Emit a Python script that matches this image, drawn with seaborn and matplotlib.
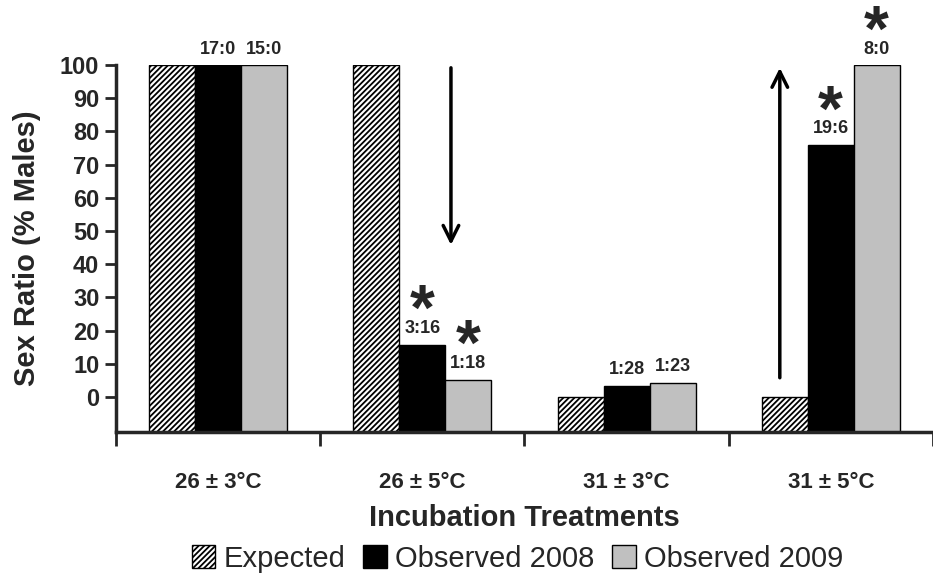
import pandas as pd
import matplotlib.pyplot as plt
import matplotlib.patches as mpatches
import seaborn as sns

# datos
treatments = ["26 ± 3°C", "26 ± 5°C", "31 ± 3°C", "31 ± 5°C"]
series = ["Expected", "Observed 2008", "Observed 2009"]
expected = [100, 100, 0, 0]
obs_2008 = [100, 15.8, 3.4, 76]
obs_2009 = [100, 5.3, 4.3, 100]
counts_2008 = ["17:0", "3:16", "1:28", "19:6"]
counts_2009 = ["15:0", "1:18", "1:23", "8:0"]
signif_2008 = [False, True, False, True]
signif_2009 = [False, True, False, True]

df = pd.DataFrame({
    "treatment": treatments * 3,
    "series": [s for s in series for _ in treatments],
    "value": expected + obs_2008 + obs_2009,
})

sns.set_style("ticks")
plt.rcParams["font.family"] = ["Liberation Sans", "DejaVu Sans"]
plt.rcParams["hatch.linewidth"] = 1.3
plt.rcParams["mathtext.fontset"] = "custom"
plt.rcParams["mathtext.bf"] = "Liberation Sans:bold"

fig = plt.figure(figsize=(9.33, 5.77), dpi=100)
ax = fig.add_axes([0.1243, 0.2513, 0.8757, 0.636])

ymin = -10.5
colores = ["white", "black", "#c0c0c0"]
sns.barplot(data=df, x="treatment", y="value", hue="series", palette=colores,
            edgecolor="black", linewidth=1, width=0.675, errorbar=None,
            legend=False, ax=ax)

# barras desde el fondo del eje (como en Excel)
for cont in ax.containers:
    for p in cont.patches:
        h = p.get_height()
        p.set_y(ymin)
        p.set_height(h - ymin)
for p in ax.containers[0].patches:
    p.set_hatch("//////")

ax.set_ylim(ymin, 100)
ax.set_xlim(-0.5, 3.466)
ax.set_yticks(range(0, 101, 10))
ax.set_xticks(range(4))
ax.set_xticklabels(treatments)
ax.set_xticks([-0.5, 0.5, 1.5, 2.5, 3.5], minor=True)
ax.tick_params(axis="x", which="major", length=0, pad=29, labelsize=16)
ax.tick_params(axis="x", which="minor", length=10, width=2, direction="out")
ax.tick_params(axis="y", length=8, width=2, direction="out", pad=4, labelsize=17)
for lab in ax.get_xticklabels() + ax.get_yticklabels():
    lab.set_fontweight("bold")

sns.despine(ax=ax)
ax.spines["left"].set_linewidth(2.5)
ax.spines["bottom"].set_linewidth(2.5)
ax.spines["left"].set_bounds(ymin, 100)

ax.set_ylabel("Sex Ratio (% Males)", fontsize=21, fontweight="bold")
ax.yaxis.set_label_coords(-0.092, 0.5)
ax.set_xlabel("Incubation Treatments", fontsize=21, fontweight="bold")
ax.xaxis.set_label_coords(0.5, -0.197)

# etiquetas de conteo y asteriscos
ast_size = 46
ast_off = 31 - 8 * ast_size / 48  # el glifo queda por encima del centro de la caja
for cont, counts, sig in [(ax.containers[1], counts_2008, signif_2008),
                          (ax.containers[2], counts_2009, signif_2009)]:
    for p, txt, s in zip(cont.patches, counts, sig):
        xc = p.get_x() + p.get_width() / 2
        top = p.get_y() + p.get_height()
        ax.annotate(txt, (xc, top), xytext=(0, 11.5), textcoords="offset points",
                    ha="center", va="center", fontsize=13, fontweight="bold",
                    annotation_clip=False)
        if s:
            ax.annotate(r"$\mathbf{*}$", (xc, top), xytext=(0, ast_off),
                        textcoords="offset points", ha="center", va="center",
                        fontsize=ast_size, annotation_clip=False)

# flechas
ax.annotate("", xy=(1.14, 45), xytext=(1.14, 100),
            arrowprops=dict(arrowstyle="->", lw=2.5, color="black", mutation_scale=28))
ax.annotate("", xy=(2.75, 100), xytext=(2.75, 5),
            arrowprops=dict(arrowstyle="->", lw=2.5, color="black", mutation_scale=28))

handles = [mpatches.Patch(facecolor=c, edgecolor="black", linewidth=1, label=s)
           for c, s in zip(colores, series)]
handles[0].set_hatch("//////")
fig.legend(handles=handles, loc="center", bbox_to_anchor=(0.555, 0.032), ncol=3,
           frameon=False, fontsize=21, handlelength=0.8, handleheight=0.8,
           handletextpad=0.3, columnspacing=0.6)

fig.savefig("out.png", dpi=100)
